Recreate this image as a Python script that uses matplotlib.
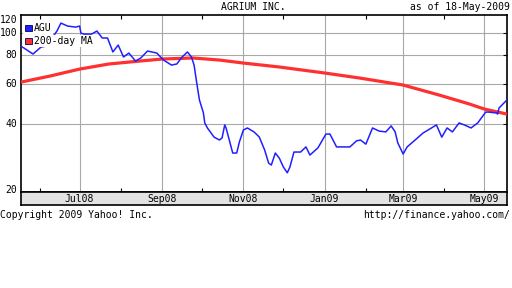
import datetime
import matplotlib
matplotlib.use('Agg')
import matplotlib.pyplot as plt
import matplotlib.transforms as mtransforms
import matplotlib.patches as mpatches

TITLE = "AGRIUM INC."
AS_OF = "as of 18-May-2009"
COPYRIGHT = "Copyright 2009 Yahoo! Inc."
URL = "http://finance.yahoo.com/"

START = "2008-05-18"
END = "2009-05-18"

# AGU closing prices
AGU_DATES = [
    "2008-05-18", "2008-05-27", "2008-06-02", "2008-06-06", "2008-06-14",
    "2008-06-17", "2008-06-22", "2008-06-28", "2008-07-01", "2008-07-02",
    "2008-07-04", "2008-07-10", "2008-07-14", "2008-07-18", "2008-07-22",
    "2008-07-26", "2008-07-30", "2008-08-03", "2008-08-07", "2008-08-12",
    "2008-08-16", "2008-08-21", "2008-08-28", "2008-09-02", "2008-09-08",
    "2008-09-12", "2008-09-16", "2008-09-20", "2008-09-23", "2008-09-25",
    "2008-09-27", "2008-09-29", "2008-10-02", "2008-10-03", "2008-10-05",
    "2008-10-10", "2008-10-14", "2008-10-16", "2008-10-18", "2008-10-19",
    "2008-10-22", "2008-10-24", "2008-10-27", "2008-10-29", "2008-11-01",
    "2008-11-04", "2008-11-09", "2008-11-13", "2008-11-17", "2008-11-20",
    "2008-11-22", "2008-11-25", "2008-11-28", "2008-12-01", "2008-12-04",
    "2008-12-06", "2008-12-09", "2008-12-14", "2008-12-18", "2008-12-21",
    "2008-12-27", "2009-01-02", "2009-01-05", "2009-01-10", "2009-01-20",
    "2009-01-25", "2009-01-28", "2009-02-01", "2009-02-06", "2009-02-11",
    "2009-02-16", "2009-02-20", "2009-02-23", "2009-02-25", "2009-03-01",
    "2009-03-04", "2009-03-10", "2009-03-16", "2009-03-21", "2009-03-26",
    "2009-03-30", "2009-04-03", "2009-04-07", "2009-04-12", "2009-04-16",
    "2009-04-21", "2009-04-26", "2009-05-02", "2009-05-04", "2009-05-10",
    "2009-05-11", "2009-05-12", "2009-05-18",
]
AGU_PRICES = [
    87.9, 81.1, 87.0, 87.9, 102.4,
    111.0, 107.7, 106.6, 107.7, 100.3,
    99.3, 99.3, 102.4, 95.4, 95.4,
    82.8, 88.8, 78.7, 81.9, 75.5,
    77.9, 83.6, 81.9, 76.3, 72.5,
    73.3, 78.7, 82.8, 78.7, 72.5,
    60.4, 50.9, 44.6, 40.3, 38.3,
    34.9, 33.9, 34.6, 39.5, 38.3,
    32.9, 29.7, 29.7, 33.2, 37.5,
    38.3, 36.8, 34.9, 30.6, 26.8,
    26.3, 29.7, 28.2, 25.8, 24.3,
    25.8, 30.0, 30.0, 31.6, 29.1,
    31.3, 36.0, 36.0, 31.6, 31.6,
    33.6, 33.9, 32.5, 38.3, 37.1,
    36.8, 39.1, 36.8, 32.9, 29.4,
    31.6, 33.9, 36.4, 37.9, 39.5,
    34.9, 38.3, 36.8, 40.3, 39.5,
    38.3, 40.3, 45.0, 45.0, 44.6,
    44.1, 46.9, 50.9,
]

# 200-day moving average
MA_DATES = [
    "2008-05-18", "2008-06-09", "2008-07-01", "2008-07-23", "2008-08-15",
    "2008-09-01", "2008-09-24", "2008-10-14", "2008-11-01", "2008-11-28",
    "2009-01-01", "2009-01-27", "2009-03-01", "2009-03-28", "2009-04-20",
    "2009-05-01", "2009-05-18",
]
MA_PRICES = [
    61.0, 64.9, 69.6, 73.3, 75.5,
    77.1, 77.9, 76.3, 74.0, 71.1,
    66.9, 63.6, 59.2, 53.5, 48.8,
    46.4, 44.1,
]

YTICKS = [20, 40, 60, 80, 100, 120]
YGRID = [40, 60, 80, 100]
LABEL_DATES = ["2008-07-01", "2008-09-01", "2008-11-01",
               "2009-01-01", "2009-03-01", "2009-05-01"]
LABEL_TEXTS = ["Jul08", "Sep08", "Nov08", "Jan09", "Mar09", "May09"]
MINOR_DATES = ["2008-06-01", "2008-08-01", "2008-10-01",
               "2008-12-01", "2009-02-01", "2009-04-01"]

W, H = 512, 288
FONT = dict(family='DejaVu Sans Mono', size=7)


def d(s):
    return datetime.date.fromisoformat(s)

def fx(px):
    return px / float(W)

def fy(py):
    return 1. - py / float(H)


######################################################################
# Plotting
######################################################################

def plot_chart():
    fig = plt.figure(figsize=(W / 100., H / 100.), dpi=100)
    ax = fig.add_axes([fx(21), fy(192), 486. / W, 177. / H])
    xlim = (d(START), d(END))

    ax.plot([d(s) for s in MA_DATES], MA_PRICES, color='#ff3030',
            lw=2.3, zorder=3, solid_capstyle='butt')
    ax.plot([d(s) for s in AGU_DATES], AGU_PRICES, color='#2020ff',
            lw=1.1, zorder=4)

    ax.set_yscale('log')
    ax.set_ylim(20, 120.5)
    ax.set_xlim(*xlim)
    ax.set_yticks(YGRID)
    ax.set_yticks([], minor=True)
    ax.set_xticks([d(s) for s in LABEL_DATES])
    ax.set_xticks([d(s) for s in MINOR_DATES], minor=True)
    ax.tick_params(which='both', labelleft=False, labelbottom=False,
                   left=False, right=True, top=True, bottom=True,
                   direction='in', color='black', width=0.8)
    ax.tick_params(axis='y', length=3)
    ax.tick_params(axis='x', which='major', length=0)
    ax.tick_params(axis='x', which='minor', length=3)
    ax.grid(True, which='major', color='#a8a8a8', lw=0.8, zorder=1)
    for sp in ax.spines.values():
        sp.set_linewidth(1.2)

    # y labels on the left, end labels nudged inside the plot
    trans = mtransforms.blended_transform_factory(ax.transAxes, ax.transData)
    for v in YTICKS:
        dy = 0
        if v == 120:
            dy = -3.5
        elif v == 20:
            dy = 1.5
        ax.annotate(str(v), xy=(0, v), xycoords=trans, xytext=(-2.5, dy),
                    textcoords='offset points', ha='right', va='center',
                    **FONT)

    # Date band under the plot
    band = fig.add_axes([fx(21), fy(205), 486. / W, 13. / H])
    band.set_facecolor('#e2e2e2')
    band.set_xlim(*xlim)
    band.set_ylim(0, 1)
    band.set_xticks([])
    band.set_yticks([])
    for sp in band.spines.values():
        sp.set_linewidth(1.2)
    for s, t in zip(LABEL_DATES, LABEL_TEXTS):
        band.text(d(s), 0.45, t, ha='center', va='center', **FONT)

    # Legend with white backing per row
    rows = [("AGU", '#2020ff', 22, 34, 53, 28),
            ("200-day MA", '#ff3030', 35, 47, 97, 41)]
    for label, color, top, bot, right, yc in rows:
        fig.patches.append(mpatches.Rectangle(
            (fx(23), fy(bot)), fx(right) - fx(23), fy(top) - fy(bot),
            transform=fig.transFigure, facecolor='white', edgecolor='none',
            zorder=5))
        fig.patches.append(mpatches.Rectangle(
            (fx(25), fy(yc + 3)), fx(7), fy(yc - 3) - fy(yc + 3),
            transform=fig.transFigure, facecolor=color, edgecolor='#000060',
            lw=0.6, zorder=6))
        fig.text(fx(34), fy(yc), label, ha='left', va='center', zorder=7,
                 **FONT)

    # Header and footer
    fig.text(fx(253), fy(7), TITLE, ha='center', va='center', **FONT)
    fig.text(fx(510), fy(7), AS_OF, ha='right', va='center', **FONT)
    fig.text(fx(0), fy(215), COPYRIGHT, ha='left', va='center', **FONT)
    fig.text(fx(510), fy(215), URL, ha='right', va='center', **FONT)
    return fig


def main():
    fig = plot_chart()
    fig.savefig('out.png', dpi=100, facecolor='white')

if __name__ == '__main__':
    main()
